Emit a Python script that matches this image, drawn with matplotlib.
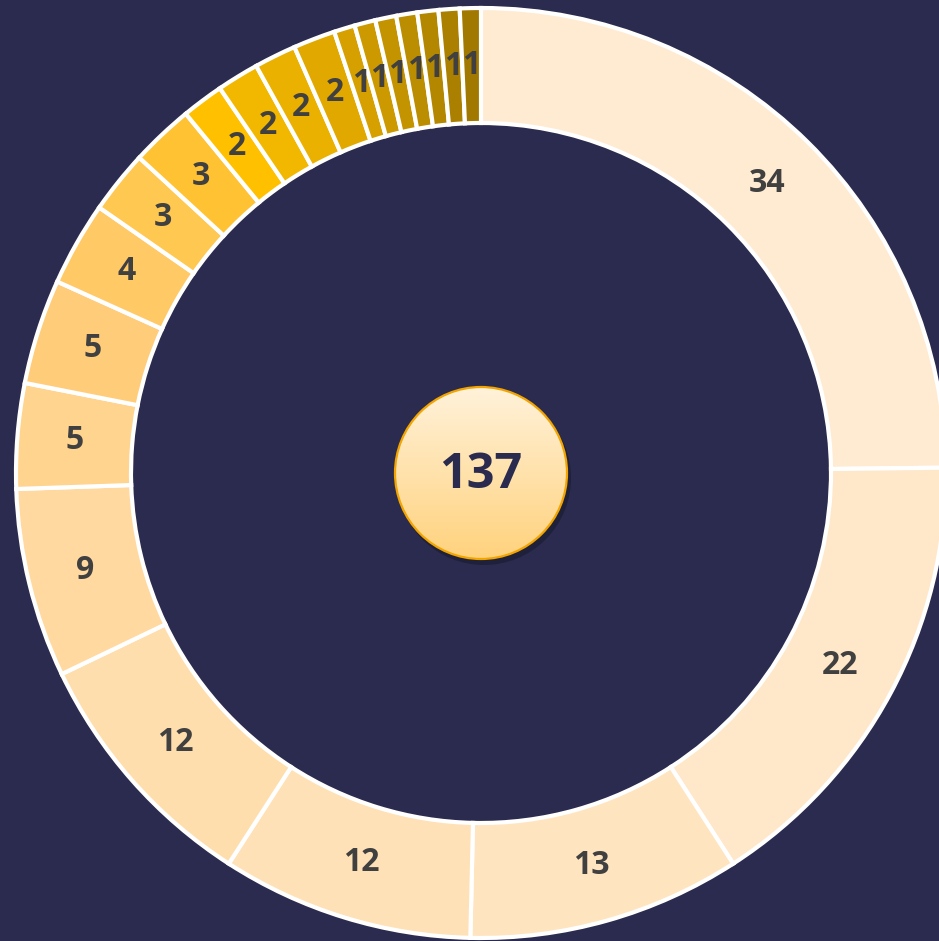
import numpy as np
import matplotlib.pyplot as plt
from matplotlib.patches import Circle

# slice values, clockwise from 12 o'clock
values = [34, 22, 13, 12, 12, 9, 5, 5, 4, 3, 3, 2, 2, 2, 2, 1, 1, 1, 1, 1, 1, 1]
total = sum(values)

colors = ['#FFEBD2', '#FFE7C9', '#FFE4C0', '#FFE1B7', '#FFDEAE', '#FFD99F',
          '#FFD48E', '#FFCC7A', '#FFC966', '#FFC850', '#FFC233', '#FFC000',
          '#F2B800', '#EAB100', '#E1A900', '#D5A000', '#CC9A00', '#C49400',
          '#BB8D00', '#B38700', '#AB8000', '#A27900']

bg = '#2A2B4E'
W, H = 939, 941
cx, cy = 481, 473
R = 465
ring = 115
font = ['Open Sans', 'DejaVu Sans']

fig = plt.figure(figsize=(W / 100, H / 100), dpi=100, facecolor=bg)
ax = fig.add_axes([0, 0, 1, 1])
ax.set_facecolor(bg)

wedges, texts, autotexts = ax.pie(
    values, colors=colors, radius=R, center=(0, 0), startangle=90,
    counterclock=False, autopct=lambda p: '%d' % round(p * total / 100),
    pctdistance=(R - ring / 2) / R,
    wedgeprops=dict(width=ring, edgecolor='white', linewidth=3),
    textprops=dict(color='#404040', fontsize=23, fontweight='bold',
                   family=font))

# centre bubble with vertical gradient
r0 = 86
shadow = Circle((3, -5), r0 + 1, facecolor='black', alpha=0.25, zorder=3)
ax.add_patch(shadow)
grad = np.linspace(0, 1, 256).reshape(-1, 1)
top = np.array([255, 242, 218]) / 255
bot = np.array([255, 210, 125]) / 255
img = top + (bot - top) * grad[..., None]
im = ax.imshow(img, extent=(-r0, r0, -r0, r0), origin='upper', zorder=4,
               aspect='auto')
clip = Circle((0, 0), r0, transform=ax.transData)
im.set_clip_path(clip)
ax.add_patch(Circle((0, 0), r0, facecolor='none', edgecolor='#F2A400',
                    linewidth=1.6, zorder=5))
ax.text(0, -2, str(total), ha='center', va='center', fontsize=35,
        fontweight='bold', color=bg, family=font, zorder=6)

ax.set_xlim(-cx, W - cx)
ax.set_ylim(-(H - cy), cy)
ax.set_aspect('equal')
ax.axis('off')

fig.savefig('out.png', dpi=100, facecolor=bg)
